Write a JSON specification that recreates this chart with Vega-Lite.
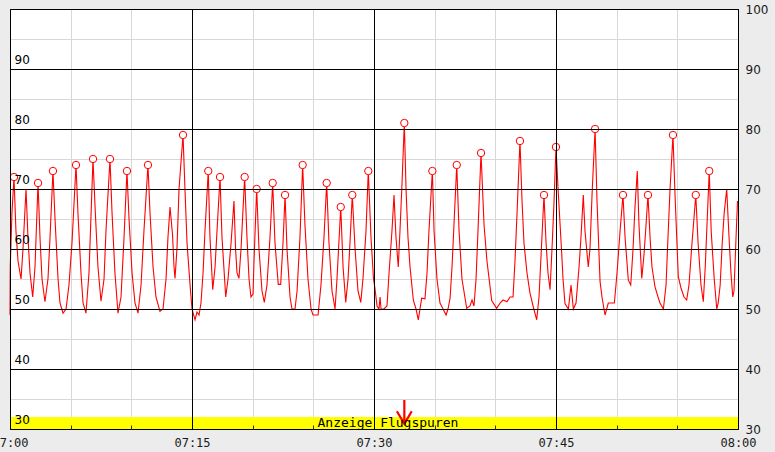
{
  "$schema": "https://vega.github.io/schema/vega-lite/v6.json",
  "width": 728,
  "height": 420,
  "autosize": {"type": "none"},
  "padding": {"left": 10, "top": 9, "right": 37, "bottom": 23},
  "background": "#ececec",
  "config": {
    "view": {"fill": "#ffffff", "stroke": "#000000", "strokeWidth": 1},
    "axis": {"labelFont": "DejaVu Sans", "labelFontSize": 12, "labelColor": "#1a1a1a", "labelFlush": false, "labelOverlap": false, "labelBound": false, "domain": false, "ticks": false}
  },
  "datasets": {
    "band": [{"start": 0, "end": 60, "low": 30, "high": 32}],
    "notes": [{"label": "Anzeige Flugspuren", "minute": 31.15, "level": 30.4}],
    "peaks": [
      {"minute": 0.33, "level": 72}, {"minute": 2.31, "level": 71}, {"minute": 3.54, "level": 73},
      {"minute": 5.44, "level": 74}, {"minute": 6.84, "level": 75}, {"minute": 8.24, "level": 75},
      {"minute": 9.64, "level": 73}, {"minute": 11.37, "level": 74}, {"minute": 14.26, "level": 79},
      {"minute": 16.34, "level": 73}, {"minute": 17.31, "level": 72}, {"minute": 19.34, "level": 72},
      {"minute": 20.33, "level": 70}, {"minute": 21.65, "level": 71}, {"minute": 22.67, "level": 69},
      {"minute": 24.12, "level": 74}, {"minute": 26.10, "level": 71}, {"minute": 27.26, "level": 67},
      {"minute": 28.21, "level": 69}, {"minute": 29.53, "level": 73}, {"minute": 32.50, "level": 81},
      {"minute": 34.81, "level": 73}, {"minute": 36.82, "level": 74}, {"minute": 38.82, "level": 76},
      {"minute": 42.03, "level": 78}, {"minute": 44.01, "level": 69}, {"minute": 45.00, "level": 77},
      {"minute": 48.22, "level": 80}, {"minute": 50.52, "level": 69}, {"minute": 52.58, "level": 69},
      {"minute": 54.64, "level": 79}, {"minute": 56.52, "level": 69}, {"minute": 57.63, "level": 73}
    ],
    "trace": [
      {"minute": 0, "level": 49}, {"minute": 0.02, "level": 57}, {"minute": 0.16, "level": 66}, {"minute": 0.33, "level": 72},
      {"minute": 0.49, "level": 63}, {"minute": 0.66, "level": 58}, {"minute": 0.91, "level": 55}, {"minute": 1.07, "level": 60},
      {"minute": 1.32, "level": 70}, {"minute": 1.48, "level": 62}, {"minute": 1.65, "level": 56}, {"minute": 1.87, "level": 52},
      {"minute": 2.06, "level": 57}, {"minute": 2.31, "level": 71}, {"minute": 2.47, "level": 62}, {"minute": 2.64, "level": 55},
      {"minute": 2.88, "level": 51.2}, {"minute": 3.13, "level": 55}, {"minute": 3.30, "level": 62}, {"minute": 3.54, "level": 73},
      {"minute": 3.71, "level": 65}, {"minute": 3.96, "level": 55}, {"minute": 4.12, "level": 51}, {"minute": 4.37, "level": 49.3},
      {"minute": 4.62, "level": 50}, {"minute": 4.86, "level": 54}, {"minute": 5.11, "level": 61}, {"minute": 5.44, "level": 74},
      {"minute": 5.60, "level": 66}, {"minute": 5.85, "level": 56}, {"minute": 6.02, "level": 51}, {"minute": 6.26, "level": 49.3},
      {"minute": 6.51, "level": 56}, {"minute": 6.84, "level": 75}, {"minute": 7.01, "level": 67}, {"minute": 7.25, "level": 57},
      {"minute": 7.50, "level": 51.3}, {"minute": 7.75, "level": 55}, {"minute": 7.91, "level": 63}, {"minute": 8.24, "level": 75},
      {"minute": 8.41, "level": 66}, {"minute": 8.65, "level": 56}, {"minute": 8.90, "level": 49.3}, {"minute": 9.15, "level": 52},
      {"minute": 9.40, "level": 62}, {"minute": 9.64, "level": 73}, {"minute": 9.81, "level": 65}, {"minute": 10.06, "level": 56},
      {"minute": 10.30, "level": 51}, {"minute": 10.55, "level": 49.3}, {"minute": 10.80, "level": 54}, {"minute": 11.04, "level": 63},
      {"minute": 11.37, "level": 74}, {"minute": 11.54, "level": 66}, {"minute": 11.79, "level": 57}, {"minute": 12.03, "level": 52},
      {"minute": 12.36, "level": 49.6}, {"minute": 12.61, "level": 50}, {"minute": 12.86, "level": 55}, {"minute": 13.02, "level": 62},
      {"minute": 13.19, "level": 67}, {"minute": 13.39, "level": 62.5}, {"minute": 13.52, "level": 57}, {"minute": 13.60, "level": 55.1},
      {"minute": 13.76, "level": 60}, {"minute": 13.93, "level": 70}, {"minute": 14.26, "level": 79}, {"minute": 14.42, "level": 70},
      {"minute": 14.59, "level": 61}, {"minute": 14.84, "level": 54}, {"minute": 15.00, "level": 50}, {"minute": 15.25, "level": 48.2},
      {"minute": 15.41, "level": 49.5}, {"minute": 15.58, "level": 49}, {"minute": 15.74, "level": 51}, {"minute": 15.91, "level": 56},
      {"minute": 16.07, "level": 63}, {"minute": 16.34, "level": 73}, {"minute": 16.48, "level": 62}, {"minute": 16.71, "level": 53.2},
      {"minute": 16.90, "level": 57}, {"minute": 17.06, "level": 63}, {"minute": 17.31, "level": 72}, {"minute": 17.47, "level": 62},
      {"minute": 17.78, "level": 52}, {"minute": 17.97, "level": 55}, {"minute": 18.22, "level": 61}, {"minute": 18.46, "level": 68},
      {"minute": 18.59, "level": 60}, {"minute": 18.71, "level": 56}, {"minute": 18.87, "level": 55.1}, {"minute": 19.04, "level": 60},
      {"minute": 19.34, "level": 72}, {"minute": 19.53, "level": 62}, {"minute": 19.70, "level": 55}, {"minute": 19.86, "level": 52},
      {"minute": 20.03, "level": 52.5}, {"minute": 20.11, "level": 58}, {"minute": 20.33, "level": 70}, {"minute": 20.52, "level": 60},
      {"minute": 20.77, "level": 53}, {"minute": 20.96, "level": 51.1}, {"minute": 21.18, "level": 54}, {"minute": 21.43, "level": 62},
      {"minute": 21.65, "level": 71}, {"minute": 21.84, "level": 61}, {"minute": 22.11, "level": 54.1}, {"minute": 22.31, "level": 54.1},
      {"minute": 22.50, "level": 61}, {"minute": 22.67, "level": 69}, {"minute": 22.83, "level": 60}, {"minute": 23.08, "level": 52},
      {"minute": 23.24, "level": 50}, {"minute": 23.49, "level": 50}, {"minute": 23.66, "level": 53}, {"minute": 23.90, "level": 62},
      {"minute": 24.12, "level": 74}, {"minute": 24.31, "level": 64}, {"minute": 24.56, "level": 55}, {"minute": 24.81, "level": 50},
      {"minute": 24.97, "level": 49}, {"minute": 25.39, "level": 49}, {"minute": 25.63, "level": 54}, {"minute": 25.88, "level": 62},
      {"minute": 26.10, "level": 71}, {"minute": 26.29, "level": 61}, {"minute": 26.54, "level": 53}, {"minute": 26.79, "level": 50},
      {"minute": 26.95, "level": 55}, {"minute": 27.26, "level": 67}, {"minute": 27.45, "level": 57}, {"minute": 27.67, "level": 51.1},
      {"minute": 27.86, "level": 55}, {"minute": 28.02, "level": 61}, {"minute": 28.21, "level": 69}, {"minute": 28.44, "level": 60},
      {"minute": 28.68, "level": 53}, {"minute": 28.91, "level": 51.1}, {"minute": 29.09, "level": 55}, {"minute": 29.34, "level": 63},
      {"minute": 29.53, "level": 73}, {"minute": 29.75, "level": 62}, {"minute": 29.96, "level": 55}, {"minute": 30.08, "level": 53.4},
      {"minute": 30.25, "level": 50.5}, {"minute": 30.41, "level": 50}, {"minute": 30.50, "level": 52}, {"minute": 30.58, "level": 50},
      {"minute": 30.83, "level": 50}, {"minute": 31.07, "level": 50.5}, {"minute": 31.24, "level": 56}, {"minute": 31.48, "level": 63},
      {"minute": 31.65, "level": 69}, {"minute": 31.81, "level": 62}, {"minute": 32.00, "level": 57}, {"minute": 32.14, "level": 63},
      {"minute": 32.31, "level": 71}, {"minute": 32.50, "level": 81}, {"minute": 32.64, "level": 70}, {"minute": 32.80, "level": 62},
      {"minute": 32.97, "level": 57}, {"minute": 33.24, "level": 51.5}, {"minute": 33.46, "level": 50}, {"minute": 33.65, "level": 48.2},
      {"minute": 33.79, "level": 50}, {"minute": 33.93, "level": 51.8}, {"minute": 34.20, "level": 51.7}, {"minute": 34.37, "level": 56},
      {"minute": 34.53, "level": 63}, {"minute": 34.81, "level": 73}, {"minute": 34.95, "level": 63}, {"minute": 35.19, "level": 55},
      {"minute": 35.44, "level": 51}, {"minute": 35.69, "level": 50}, {"minute": 35.94, "level": 49}, {"minute": 36.10, "level": 50},
      {"minute": 36.27, "level": 51.8}, {"minute": 36.43, "level": 57}, {"minute": 36.59, "level": 64}, {"minute": 36.82, "level": 74},
      {"minute": 37.01, "level": 63}, {"minute": 37.25, "level": 55}, {"minute": 37.64, "level": 50.1}, {"minute": 37.91, "level": 50.5},
      {"minute": 38.08, "level": 51.5}, {"minute": 38.24, "level": 50.5}, {"minute": 38.41, "level": 55}, {"minute": 38.57, "level": 63},
      {"minute": 38.82, "level": 76}, {"minute": 39.07, "level": 64}, {"minute": 39.31, "level": 58}, {"minute": 39.70, "level": 51.4},
      {"minute": 40.11, "level": 50.1}, {"minute": 40.39, "level": 51}, {"minute": 40.63, "level": 51.5}, {"minute": 40.96, "level": 51.2},
      {"minute": 41.21, "level": 52}, {"minute": 41.46, "level": 52}, {"minute": 41.62, "level": 58}, {"minute": 41.79, "level": 66},
      {"minute": 42.03, "level": 78}, {"minute": 42.20, "level": 68}, {"minute": 42.36, "level": 61}, {"minute": 42.61, "level": 56},
      {"minute": 42.86, "level": 52.6}, {"minute": 43.11, "level": 50.5}, {"minute": 43.41, "level": 48.2}, {"minute": 43.60, "level": 52},
      {"minute": 43.77, "level": 59}, {"minute": 44.01, "level": 69}, {"minute": 44.18, "level": 61}, {"minute": 44.34, "level": 56},
      {"minute": 44.51, "level": 53.2}, {"minute": 44.67, "level": 60}, {"minute": 44.84, "level": 68}, {"minute": 45.00, "level": 77},
      {"minute": 45.17, "level": 70}, {"minute": 45.47, "level": 59.3}, {"minute": 45.58, "level": 55}, {"minute": 45.74, "level": 50.9},
      {"minute": 46.02, "level": 50}, {"minute": 46.24, "level": 54}, {"minute": 46.43, "level": 50}, {"minute": 46.65, "level": 51},
      {"minute": 46.90, "level": 57}, {"minute": 47.06, "level": 62}, {"minute": 47.25, "level": 69}, {"minute": 47.39, "level": 63},
      {"minute": 47.66, "level": 57}, {"minute": 47.80, "level": 60}, {"minute": 47.97, "level": 69}, {"minute": 48.22, "level": 80},
      {"minute": 48.38, "level": 68}, {"minute": 48.63, "level": 54.6}, {"minute": 48.79, "level": 52}, {"minute": 49.04, "level": 49},
      {"minute": 49.31, "level": 51}, {"minute": 49.54, "level": 51}, {"minute": 49.81, "level": 51}, {"minute": 50.03, "level": 56},
      {"minute": 50.28, "level": 63}, {"minute": 50.52, "level": 69}, {"minute": 50.69, "level": 62}, {"minute": 50.96, "level": 54.8},
      {"minute": 51.16, "level": 54}, {"minute": 51.35, "level": 60}, {"minute": 51.51, "level": 67}, {"minute": 51.70, "level": 73},
      {"minute": 51.84, "level": 64}, {"minute": 52.07, "level": 55.1}, {"minute": 52.25, "level": 59}, {"minute": 52.42, "level": 64},
      {"minute": 52.58, "level": 69}, {"minute": 52.75, "level": 62}, {"minute": 52.91, "level": 57}, {"minute": 53.16, "level": 53.7},
      {"minute": 53.41, "level": 52}, {"minute": 53.57, "level": 51}, {"minute": 53.85, "level": 50}, {"minute": 54.07, "level": 54},
      {"minute": 54.23, "level": 62}, {"minute": 54.40, "level": 70}, {"minute": 54.64, "level": 79}, {"minute": 54.81, "level": 69},
      {"minute": 55.08, "level": 55.4}, {"minute": 55.30, "level": 53.5}, {"minute": 55.55, "level": 52}, {"minute": 55.77, "level": 51.5},
      {"minute": 55.96, "level": 54}, {"minute": 56.21, "level": 61}, {"minute": 56.52, "level": 69}, {"minute": 56.71, "level": 61},
      {"minute": 56.95, "level": 54}, {"minute": 57.14, "level": 51.2}, {"minute": 57.30, "level": 57}, {"minute": 57.63, "level": 73},
      {"minute": 57.79, "level": 63}, {"minute": 58.04, "level": 55}, {"minute": 58.25, "level": 50}, {"minute": 58.37, "level": 51},
      {"minute": 58.53, "level": 54}, {"minute": 58.70, "level": 61}, {"minute": 58.86, "level": 66}, {"minute": 59.07, "level": 70},
      {"minute": 59.26, "level": 62}, {"minute": 59.42, "level": 56}, {"minute": 59.57, "level": 52}, {"minute": 59.67, "level": 53},
      {"minute": 59.84, "level": 62}, {"minute": 59.96, "level": 68}
    ]
  },
  "resolve": {"axis": {"x": "independent", "y": "independent"}},
  "layer": [
    {
      "data": {"name": "band"},
      "mark": {"type": "rect", "color": "#ffff00"},
      "encoding": {
        "x": {"field": "start", "type": "quantitative", "scale": {"domain": [0, 60], "nice": false, "zero": false},
          "axis": {"orient": "bottom", "title": null, "values": [5, 10, 20, 25, 35, 40, 50, 55], "grid": true, "gridColor": "#d8d8d8", "gridWidth": 1, "labels": false, "zindex": 0}},
        "x2": {"field": "end"},
        "y": {"field": "low", "type": "quantitative", "scale": {"domain": [30, 100], "nice": false, "zero": false},
          "axis": {"orient": "left", "title": null, "values": [35, 45, 55, 65, 75, 85, 95], "grid": true, "gridColor": "#d8d8d8", "gridWidth": 1, "labels": false, "zindex": 0}},
        "y2": {"field": "high"}
      }
    },
    {
      "data": {"name": "trace"},
      "mark": {"type": "line", "color": "#ff0000", "strokeWidth": 1.1, "interpolate": "linear"},
      "encoding": {
        "x": {"field": "minute", "type": "quantitative",
          "axis": {"orient": "bottom", "title": null, "values": [0, 15, 30, 45, 60], "grid": true, "gridColor": "#000000", "gridWidth": 1, "zindex": 1,
            "labelFont": "DejaVu Sans Mono", "labelFontSize": 12, "labelPadding": 8, "labelBaseline": "top",
            "labelExpr": "datum.value === 60 ? '08:00' : '07:' + (datum.value < 10 ? '0' + datum.value : datum.value)"}},
        "y": {"field": "level", "type": "quantitative",
          "axis": {"orient": "right", "title": null, "values": [30, 40, 50, 60, 70, 80, 90, 100], "grid": true, "gridColor": "#000000", "gridWidth": 1, "zindex": 1, "labelPadding": 7, "labelAlign": "left"}}
      }
    },
    {
      "data": {"name": "peaks"},
      "mark": {"type": "point", "shape": "circle", "filled": true, "fill": "#ffffff", "stroke": "#ff0000", "strokeWidth": 1, "size": 55, "opacity": 1},
      "encoding": {
        "x": {"field": "minute", "type": "quantitative",
          "axis": {"orient": "bottom", "title": null, "values": [5, 10, 20, 25, 35, 40, 50, 55], "grid": false, "labels": false, "ticks": true, "tickSize": -4, "tickColor": "#333333", "zindex": 1}},
        "y": {"field": "level", "type": "quantitative",
          "axis": {"orient": "left", "title": null, "values": [30, 40, 50, 60, 70, 80, 90], "grid": false, "labelAlign": "left", "labelPadding": -4, "labelBaseline": "alphabetic", "labelOffset": -6, "labelColor": "#000000", "zindex": 1}}
      }
    },
    {
      "data": {"name": "peaks"},
      "transform": [
        {"joinaggregate": [{"op": "max", "field": "level", "as": "maxLevel"}]},
        {"filter": "datum.level === datum.maxLevel"}
      ],
      "mark": {"type": "point", "shape": "M0,-1L0,1M-0.62,-0.05L0,1L0.62,-0.05", "filled": false, "stroke": "#ff0000", "strokeWidth": 2.2, "size": 576, "opacity": 1},
      "encoding": {
        "x": {"field": "minute", "type": "quantitative", "axis": null},
        "y": {"datum": 32.85, "type": "quantitative", "axis": null}
      }
    },
    {
      "data": {"name": "notes"},
      "mark": {"type": "text", "font": "DejaVu Sans Mono", "fontSize": 13, "color": "#000000", "align": "center", "baseline": "alphabetic"},
      "encoding": {
        "x": {"field": "minute", "type": "quantitative", "axis": null},
        "y": {"field": "level", "type": "quantitative", "axis": null},
        "text": {"field": "label"}
      }
    }
  ]
}
